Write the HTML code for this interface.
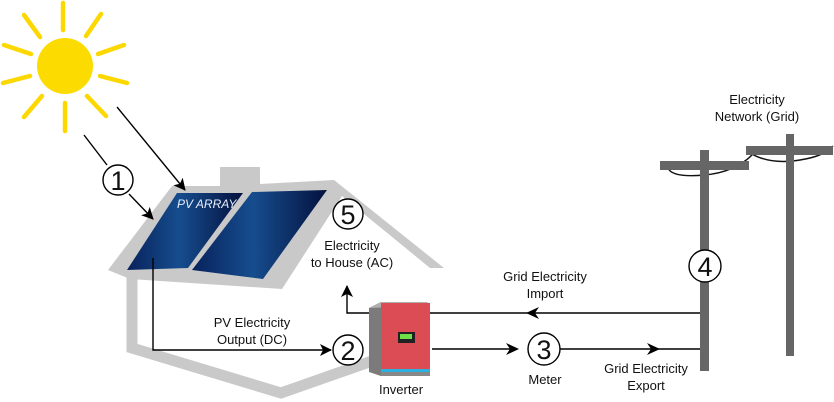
<!DOCTYPE html>
<html><head><meta charset="utf-8"><style>
html,body{margin:0;padding:0;background:#fff;}
svg{display:block;}
text{font-family:"Liberation Sans",sans-serif;font-size:13px;fill:#111;}
.n{font-size:27px;}
</style></head><body>
<svg width="834" height="402" viewBox="0 0 834 402" xmlns="http://www.w3.org/2000/svg">
<defs>
<linearGradient id="pg" x1="0" y1="0" x2="1" y2="0">
<stop offset="0" stop-color="#08225c"/><stop offset="0.45" stop-color="#164d8e"/><stop offset="1" stop-color="#04113e"/>
</linearGradient>
<marker id="ah" markerWidth="12" markerHeight="12" refX="11" refY="6" orient="auto" markerUnits="userSpaceOnUse">
<path d="M0,0 L12,6 L0,12 L3,6 z" fill="#000"/></marker>
</defs>
<!-- sun -->
<g stroke="#fcd800" stroke-width="4.5" stroke-linecap="round">
<line x1="63" y1="3" x2="63" y2="30"/>
<line x1="24" y1="15" x2="40" y2="37"/>
<line x1="101" y1="14" x2="86" y2="36"/>
<line x1="4" y1="45" x2="31" y2="54"/>
<line x1="124" y1="45" x2="98" y2="54"/>
<line x1="3" y1="83" x2="30" y2="76"/>
<line x1="127" y1="83" x2="100" y2="76"/>
<line x1="24" y1="117" x2="42" y2="96"/>
<line x1="106" y1="116" x2="87" y2="96"/>
<line x1="65" y1="103" x2="65" y2="131"/>
</g>
<circle cx="65" cy="66" r="28" fill="#fcdc00"/>
<!-- house -->
<polygon fill="#c9c9c9" points="108,270 172,186 220,186 220,167 260,167 260,184 334,180 444,268 430,268 342,196 282,289 130,279"/>
<polyline fill="none" stroke="#c9c9c9" stroke-width="11" stroke-linejoin="miter" points="132,275 132,348 281,393 372,361"/>
<!-- panels -->
<polygon fill="url(#pg)" points="127,270 177,193 243,193 188,268"/>
<polygon fill="url(#pg)" points="192,270 252,192 327,190 263,279"/>
<text x="177" y="208" style="font-size:12px;font-style:italic;fill:#e8eefc">PV ARRAY</text>
<!-- rays -->
<g stroke="#000" stroke-width="1.4" fill="none">
<line x1="84" y1="135" x2="107" y2="165"/>
<line x1="129" y1="194" x2="153" y2="219" marker-end="url(#ah)"/>
<line x1="117" y1="107" x2="185" y2="190" marker-end="url(#ah)"/>
<polyline points="153,258 153,350 331,350" marker-end="url(#ah)"/>
<polyline points="370,313 347,313 347,286" marker-end="url(#ah)"/>
<line x1="430" y1="313" x2="703" y2="313"/>
<line x1="432" y1="349" x2="513" y2="349"/>
<line x1="560" y1="349" x2="700" y2="349"/>
</g>
<path d="M539,307 L526,313 L539,319 L535,313z" fill="#000"/>
<path d="M506,343 L519,349 L506,355 L510,349z" fill="#000"/>
<path d="M647,343 L660,349 L647,355 L651,349z" fill="#000"/>
<!-- circles -->
<g fill="#fff" stroke="#000" stroke-width="1.4">
<circle cx="118" cy="180" r="15"/>
<circle cx="348" cy="350" r="15"/>
<circle cx="348" cy="214" r="15"/>
<circle cx="544" cy="349" r="16"/>
</g>
<!-- inverter -->
<polygon fill="#7b7b7b" points="369,308 381,302 381,376 369,372"/>
<polygon fill="#b0b0b0" points="369,308 381,302 429,302 420,306"/>
<rect x="381" y="303" width="49" height="70" fill="#dc4c55"/>
<rect x="381" y="369" width="49" height="3" fill="#2bb0e0"/>
<rect x="381" y="372" width="49" height="4" fill="#888"/>
<rect x="398" y="332" width="17" height="11" fill="#222"/>
<rect x="400" y="334" width="12" height="5" fill="#6fe04a"/>
<!-- poles -->
<path d="M668,168 Q672,178 705,175 Q735,172 752,155" stroke="#111" stroke-width="1.5" fill="none"/>
<path d="M750,153 Q770,165 800,160 Q825,156 833,146" stroke="#111" stroke-width="1.5" fill="none"/>
<rect x="700" y="150" width="9" height="221" fill="#666"/>
<rect x="660" y="161" width="89" height="9" fill="#666"/>
<rect x="786" y="134" width="8" height="222" fill="#666"/>
<rect x="746" y="146" width="87" height="9" fill="#666"/>
<circle cx="705" cy="266" r="16" fill="#fff" stroke="#000" stroke-width="1.4"/>
<!-- numbers -->
<text class="n" x="118" y="190" text-anchor="middle">1</text>
<text class="n" x="348" y="360" text-anchor="middle">2</text>
<text class="n" x="544" y="359" text-anchor="middle">3</text>
<text class="n" x="705" y="276" text-anchor="middle">4</text>
<text class="n" x="348" y="224" text-anchor="middle">5</text>
<!-- labels -->
<g text-anchor="middle">
<text x="252" y="327">PV Electricity</text>
<text x="252" y="344">Output (DC)</text>
<text x="352" y="250">Electricity</text>
<text x="352" y="267">to House (AC)</text>
<text x="545" y="281">Grid Electricity</text>
<text x="545" y="298">Import</text>
<text x="545" y="384">Meter</text>
<text x="646" y="373">Grid Electricity</text>
<text x="646" y="390">Export</text>
<text x="401" y="394">Inverter</text>
<text x="757" y="104">Electricity</text>
<text x="757" y="121">Network (Grid)</text>
</g>
</svg>
</body></html>
